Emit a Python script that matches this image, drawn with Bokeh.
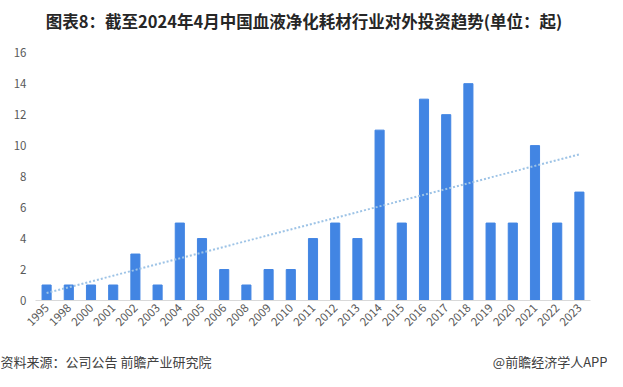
import numpy as np
from bokeh.plotting import figure
from bokeh.layouts import column
from bokeh.models import ColumnDataSource, Range1d, FactorRange
from bokeh.core.properties import value
from bokeh.embed import file_html
from bokeh.resources import INLINE
from math import pi

years = ["1995", "1998", "2000", "2001", "2002", "2003", "2004", "2005", "2006", "2008",
         "2009", "2010", "2011", "2012", "2013", "2014", "2015", "2016", "2017", "2018",
         "2019", "2020", "2021", "2022", "2023"]
counts = [1, 1, 1, 1, 3, 1, 5, 4, 2, 1,
          2, 2, 4, 5, 4, 11, 5, 13, 12, 14,
          5, 5, 10, 5, 7]
y_ticks = [0, 2, 4, 6, 8, 10, 12, 14, 16]

title_text = "图表8：截至2024年4月中国血液净化耗材行业对外投资趋势(单位：起)"
source_text = "资料来源：公司公告 前瞻产业研究院"
brand_text = "@前瞻经济学人APP"

CJK = "Noto Sans CJK SC"
W = 607
HEAD_H = 40
FOOT_H = 30
MAIN_H = 371 - HEAD_H - FOOT_H


def strip(height):
    s = figure(width=W, height=height, x_range=Range1d(0, W), y_range=Range1d(0, height),
               output_backend="svg", toolbar_location=None, x_axis_type=None, y_axis_type=None,
               min_border_left=0, min_border_right=0, min_border_top=0, min_border_bottom=0)
    s.outline_line_color = None
    s.background_fill_color = "white"
    s.border_fill_color = "white"
    if "frame_align" in s.properties():
        s.frame_align = False
    return s


# linear trendline (Excel-style, x = 1..n)
xi = np.arange(1, len(counts) + 1)
slope, intercept = np.polyfit(xi, np.array(counts, dtype=float), 1)
trend = list(intercept + slope * xi)

src = ColumnDataSource(dict(x=years, y=counts, t=trend))

# header with title
h = strip(HEAD_H)
h.text(x=[W / 2], y=[HEAD_H - 20], text=[title_text], text_font=value(CJK),
       text_font_size="16.5px", text_font_style="bold", text_color="#262626",
       text_baseline="middle", text_align="center")

p = figure(width=W, height=MAIN_H, x_range=FactorRange(*years), y_range=Range1d(0, 16.4),
           output_backend="svg", toolbar_location=None,
           min_border_left=35, min_border_right=17, min_border_top=6, min_border_bottom=41)
if "frame_align" in p.properties():
    p.frame_align = False

p.vbar(x="x", top="y", width=0.41, source=src, color="#4285E3")
p.line(x="x", y="t", source=src, line_color="#9DC3E6", line_width=2, line_dash="2 2")

p.outline_line_color = None
p.xgrid.grid_line_color = None
p.ygrid.grid_line_color = None
p.background_fill_color = "white"
p.border_fill_color = "white"

p.yaxis.ticker = y_ticks
p.yaxis.axis_line_color = None
p.yaxis.major_tick_line_color = None
p.yaxis.minor_tick_line_color = None
p.yaxis.major_tick_out = 0
p.yaxis.major_tick_in = 0
p.yaxis.major_label_text_font = CJK
p.yaxis.major_label_text_font_size = "11.5px"
p.yaxis.major_label_text_color = "#595959"
p.yaxis.major_label_standoff = 9

p.xaxis.axis_line_color = "#D9D9D9"
p.xaxis.major_tick_line_color = None
p.xaxis.minor_tick_line_color = None
p.xaxis.major_tick_out = 0
p.xaxis.major_tick_in = 0
p.xaxis.major_label_orientation = pi / 4
p.xaxis.major_label_text_font = CJK
p.xaxis.major_label_text_font_size = "11.5px"
p.xaxis.major_label_text_color = "#595959"
p.xaxis.major_label_standoff = 5

p.x_range.range_padding = 0
p.x_range.group_padding = 0

# footer strip
f = strip(FOOT_H)
f.text(x=[0], y=[10], text=[source_text], text_font=value(CJK), text_font_size="13px",
       text_color="#404040", text_baseline="middle", text_align="left")
f.text(x=[W], y=[10], text=[brand_text], text_font=value(CJK), text_font_size="13px",
       text_color="#404040", text_baseline="middle", text_align="right")

layout = column(h, p, f, spacing=0)
open("out.html", "w").write(file_html(layout, INLINE))
